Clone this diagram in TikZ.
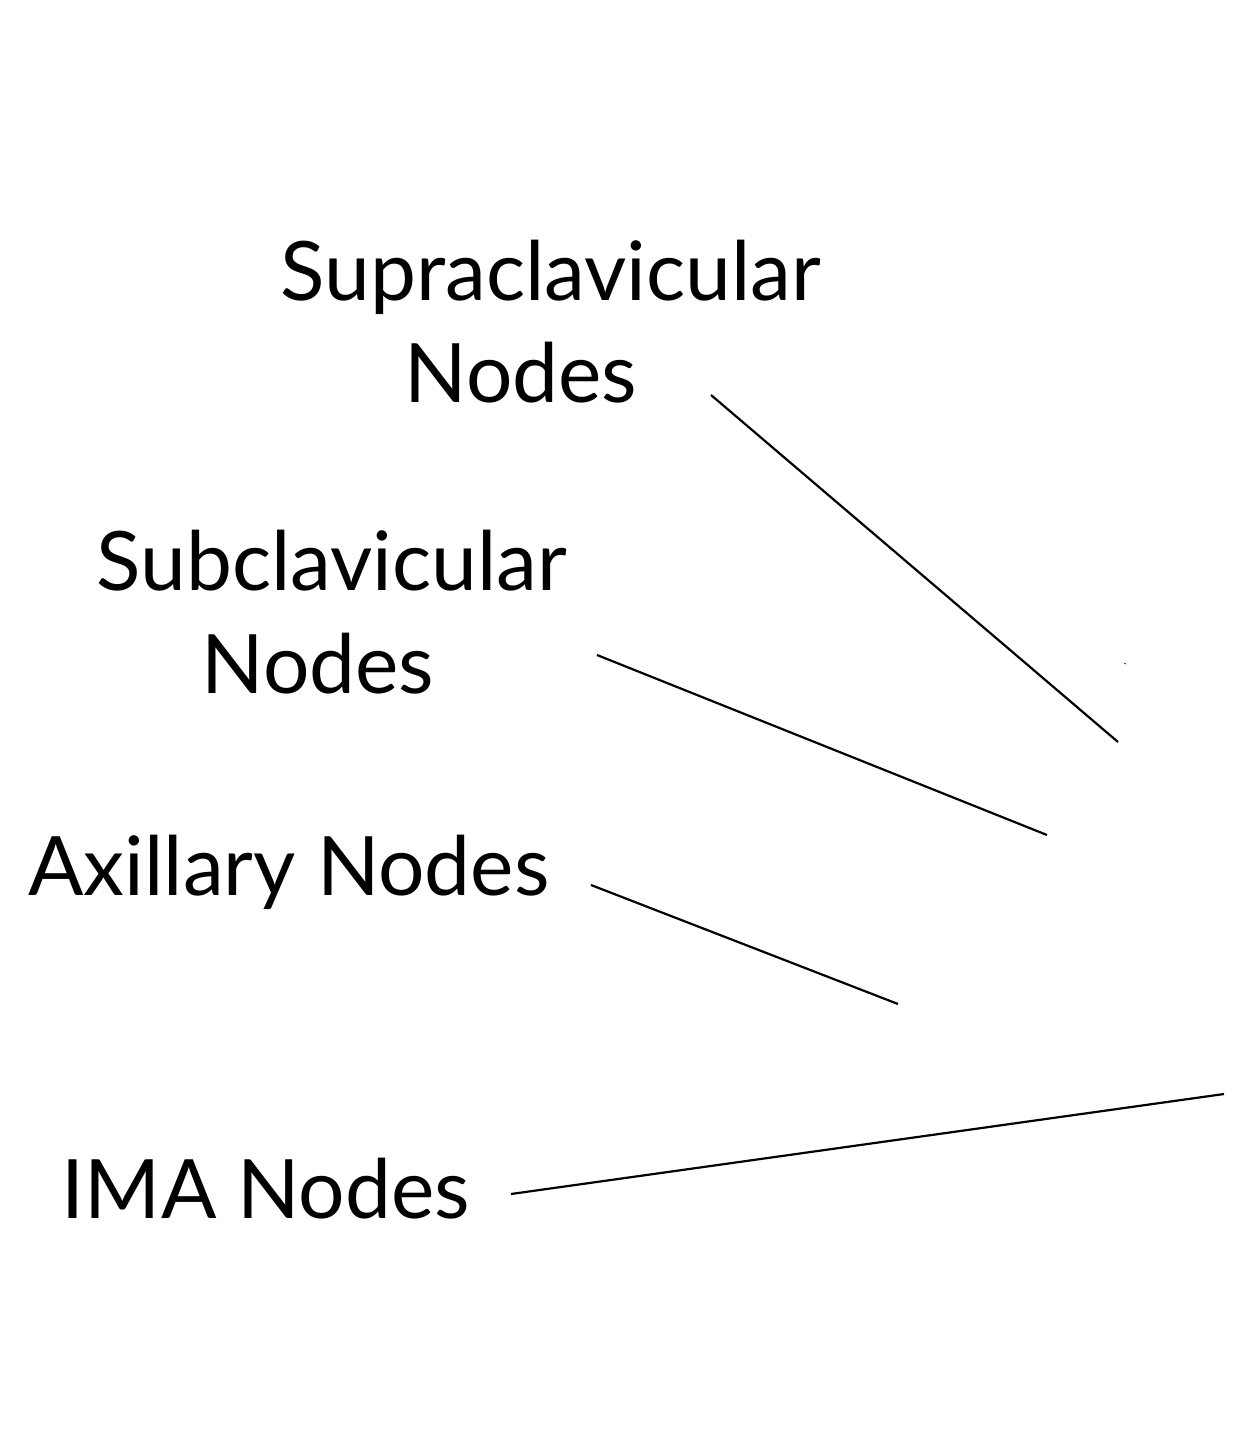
\documentclass[tikz,border=0pt]{standalone}
\usepackage{fontspec}
\setmainfont{Lato}
\begin{document}
\begin{tikzpicture}[x=1pt,y=-1pt,
  lbl/.style={anchor=base,inner sep=0pt,font=\fontsize{82}{100}\selectfont},
  leader/.style={draw=black,line width=2.2pt}]
\useasboundingbox (0,0) rectangle (1254,1439);
\node[lbl] (supA) at (551,300) {Supraclavicular};
\node[lbl] (supB) at (521,402) {Nodes};
\node[lbl] (subA) at (332,590) {Subclavicular};
\node[lbl] (subB) at (318,693) {Nodes};
\node[lbl] (axl) at (289,895) {Axillary Nodes};
\node[lbl] (ima) at (266,1218) {IMA Nodes};
\coordinate (s1) at (711,395); \coordinate (e1) at (1118,742);
\coordinate (s2) at (597,655); \coordinate (e2) at (1047,835);
\coordinate (s3) at (591,885); \coordinate (e3) at (898,1004);
\coordinate (s4) at (511,1194); \coordinate (e4) at (1224,1094);
\draw[leader] (s1) -- (e1);
\draw[leader] (s2) -- (e2);
\draw[leader] (s3) -- (e3);
\draw[leader] (s4) -- (e4);
\coordinate (dotA) at (1124.5,663); \coordinate (dotB) at (1125.5,664);
\draw[line width=1pt] (dotA) -- (dotB);
\end{tikzpicture}
\end{document}
